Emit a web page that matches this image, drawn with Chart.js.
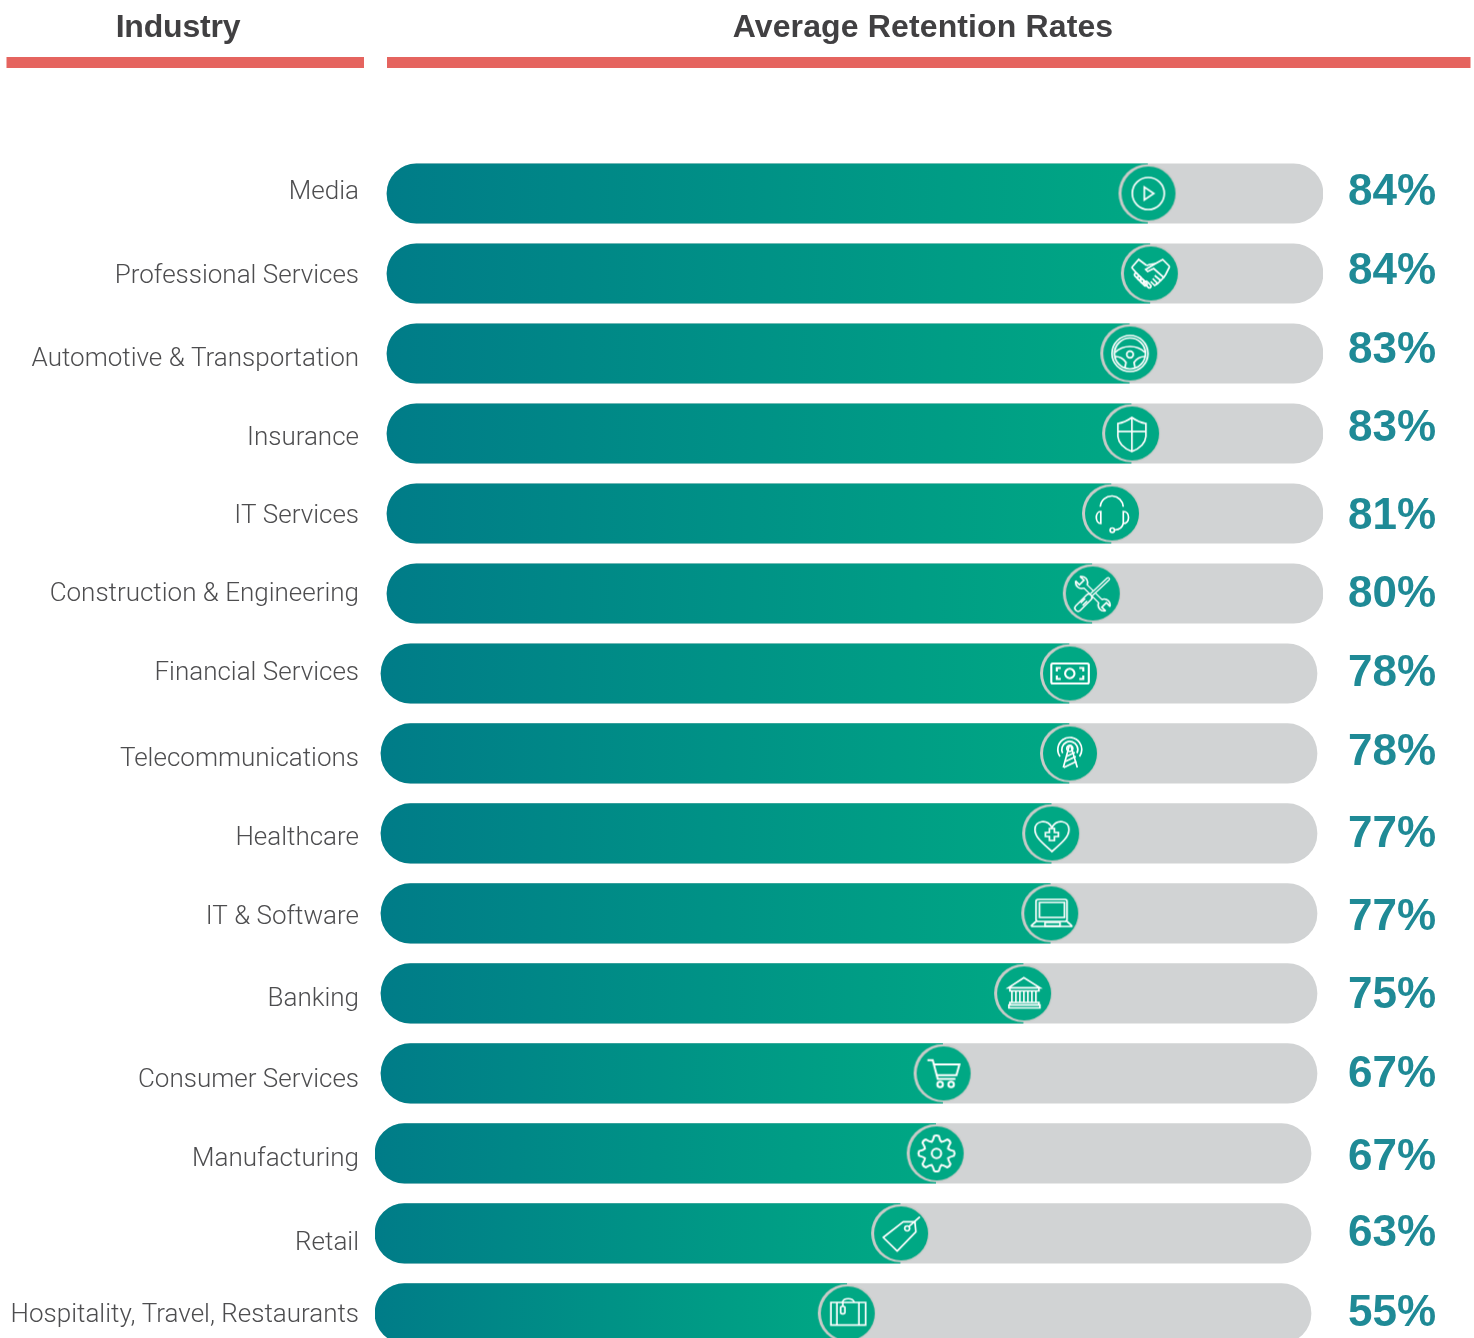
<!DOCTYPE html>
<html>
<head>
<meta charset="utf-8">
<title>Average Retention Rates by Industry</title>
<style>
html,body{margin:0;padding:0;background:#fff;overflow:hidden;width:1474px;height:1338px}
#wrap{width:1474px;height:1338px;overflow:hidden;position:relative}
canvas{display:block}
</style>
<script src="https://cdn.jsdelivr.net/npm/chart.js@4"></script>
</head>
<body>
<div id="wrap"><canvas id="c" width="1474" height="1385"></canvas></div>
<script>
const categories = ["Media","Professional Services","Automotive & Transportation","Insurance","IT Services","Construction & Engineering","Financial Services","Telecommunications","Healthcare","IT & Software","Banking","Consumer Services","Manufacturing","Retail","Hospitality, Travel, Restaurants"];
const rates = [84,84,83,83,81,80,78,78,77,77,75,67,67,63,55];
// where each icon badge sits along its track, as drawn (percent of track)
const drawnFill = [81.25,81.5,79.3,79.5,77.35,75.3,73.5,73.5,71.6,71.5,68.6,60.0,59.9,56.1,50.4];
const trackStart = [0,0,0,0,0,0,-0.64,-0.64,-0.64,-0.64,-0.64,-0.64,-1.28,-1.28,-1.28];
const iconNames = ["play","handshake","wheel","shield","headset","tools","money","tower","heart","laptop","bank","cart","gear","tag","case"];
const columnTitles = ["Industry","Average Retention Rates"];
const labelNudge = [-1,3,6,5,3,1,0,6,5,4,6,7,6,10,2];
const rateNudge = [-2,-3,-4,-6,2,0,-1,-2,0,3,1,0,3,-1,-1];

const GREEN='#00a884', TEAL='#007c88', TRACK='#d1d3d4', RING='#c9cbc8', RED='#e5645f', DARK='#414042', RATE='#1f8a96';

function P(c,pts,close){c.beginPath();pts.forEach((p,i)=>i?c.lineTo(p[0],p[1]):c.moveTo(p[0],p[1]));if(close)c.closePath();c.stroke();}
function C(c,x,y,r){c.beginPath();c.arc(x,y,r,0,Math.PI*2);c.stroke();}
const icons={
 play(c){C(c,0,0,16);P(c,[[-4,-6.5],[-4,6.5],[5.5,0]],true);},
 handshake(c){
  P(c,[[-19,-6],[-12,-14],[-4,-8]]);P(c,[[-19,-6],[-13,1]]);
  P(c,[[19,-7],[12,-14],[5,-10],[-5,-4],[-3,-2],[3,-5],[13,4],[15,1],[19,-7]]);
  P(c,[[-4,-8],[-1,-9],[5,-10]]);
  P(c,[[13,4],[10,7],[4,2]]);P(c,[[10,7],[7,10],[2,5]]);P(c,[[7,10],[4,12],[0,8]]);
  [[-13,3],[-10,6],[-7,9],[-3,11]].forEach(p=>{c.save();c.translate(p[0],p[1]);c.rotate(Math.PI/4);c.beginPath();c.roundRect(-4,-1.6,8,3.2,1.6);c.stroke();c.restore();});
 },
 wheel(c){C(c,0,0,18);C(c,0,0,15.5);C(c,0,1,3.3);
  c.beginPath();c.moveTo(-15,-1);c.quadraticCurveTo(-9,-7,0,-7);c.quadraticCurveTo(9,-7,15,-1);c.stroke();
  c.beginPath();c.moveTo(-15,3);c.quadraticCurveTo(-8,3,-4,9);c.lineTo(-5,14);c.stroke();
  c.beginPath();c.moveTo(15,3);c.quadraticCurveTo(8,3,4,9);c.lineTo(5,14);c.stroke();
 },
 shield(c){c.beginPath();c.moveTo(0,-16);c.quadraticCurveTo(-7,-11,-14,-10);c.lineTo(-14,3);c.quadraticCurveTo(-13,13,0,18);c.quadraticCurveTo(13,13,14,3);c.lineTo(14,-10);c.quadraticCurveTo(7,-11,0,-16);c.closePath();c.stroke();P(c,[[0,-16],[0,18]]);P(c,[[-14,-2],[14,-2]]);},
 headset(c){c.beginPath();c.arc(0,-6,11.5,Math.PI*1.02,Math.PI*1.98);c.stroke();
  c.beginPath();c.moveTo(-11,-2);c.bezierCurveTo(-17,-2,-17,10,-11,10);c.closePath();c.stroke();
  c.beginPath();c.moveTo(11.5,-2);c.bezierCurveTo(18.5,-2,18.5,10,11.5,10);c.closePath();c.stroke();
  c.beginPath();c.moveTo(11.5,10);c.quadraticCurveTo(10,16,3,16.5);c.stroke();C(c,0.5,16.7,2.2);},
 tools(c){
  const line=(pts,w,col)=>{c.save();c.lineCap='round';c.lineWidth=w;c.strokeStyle=col;P(c,pts);c.restore();};
  const head=(x,y,dx,dy)=>{
    c.fillStyle=GREEN;c.beginPath();c.arc(x,y,6,0,Math.PI*2);c.fill();C(c,x,y,6);
    const nx=-dy*3.2,ny=dx*3.2;
    c.beginPath();c.moveTo(x+nx,y+ny);c.lineTo(x+nx+dx*9,y+ny+dy*9);c.lineTo(x-nx+dx*9,y-ny+dy*9);c.lineTo(x-nx,y-ny);c.closePath();c.fill();
    P(c,[[x+nx+dx*5.5,y+ny+dy*5.5],[x+nx,y+ny],[x-nx,y-ny],[x-nx+dx*5.5,y-ny+dy*5.5]]);
  };
  const s=Math.SQRT1_2;
  line([[-9,-9],[9,9]],6,'#fff');
  head(-11,-11,-s,-s);head(11.5,11.5,s,s);
  line([[-8,-8],[8,8]],3.2,GREEN);
  line([[-1,1],[15.5,-14.5]],4,'#fff');line([[-1,1],[15.5,-14.5]],1.4,GREEN);
  line([[-14.5,14.5],[-4,4]],8,'#fff');line([[-14.5,14.5],[-4,4]],5,GREEN);
  P(c,[[-12,9.5],[-7.5,5]]);P(c,[[-10,12],[-5.5,7.5]]);},
 money(c){c.save();c.lineWidth=2.1;c.beginPath();c.roundRect(-18.5,-10,37.5,20,1.5);c.stroke();C(c,0,0,4.7);
  P(c,[[-9,-5.5],[-13,-5.5],[-13,-2]]);P(c,[[-13,2],[-13,5.5],[-9,5.5]]);P(c,[[9.5,-5.5],[13.5,-5.5],[13.5,-2]]);P(c,[[13.5,2],[13.5,5.5],[9.5,5.5]]);c.restore();},
 tower(c){
  c.beginPath();c.arc(0,-4,12,Math.PI*0.8,Math.PI*0.2);c.stroke();c.beginPath();c.arc(0,-4,8,Math.PI*0.85,Math.PI*0.15);c.stroke();C(c,0,-5,3);
  P(c,[[-6.5,14],[-0.5,-8],[1,-8],[7.5,14]]);P(c,[[-3.5,3],[5,-1]]);P(c,[[-4.5,8],[6,3]]);P(c,[[-6,14],[6.5,8]]);},
 heart(c){c.beginPath();c.moveTo(0,18);c.bezierCurveTo(-9,10,-17,4,-17,-4);c.bezierCurveTo(-17,-13,-5,-15,0,-6);c.bezierCurveTo(5,-15,17,-13,17,-4);c.bezierCurveTo(17,4,9,10,0,18);c.closePath();c.stroke();
  P(c,[[-2.5,-1],[-2.5,-5],[2.5,-5],[2.5,-1],[6.5,-1],[6.5,3],[2.5,3],[2.5,7],[-2.5,7],[-2.5,3],[-6.5,3],[-6.5,-1]],true);},
 laptop(c){c.beginPath();c.roundRect(-15,-14,31,22,2);c.stroke();c.beginPath();c.rect(-11.5,-11,25,15);c.stroke();
  c.beginPath();c.moveTo(-15,8);c.lineTo(-19.5,12);c.quadraticCurveTo(-20,13,-18,13);c.lineTo(20,13);c.quadraticCurveTo(21.5,13,20.5,12);c.lineTo(16,8);c.stroke();c.beginPath();c.rect(-6,9,15,3.6);c.stroke();},
 bank(c){P(c,[[0,-15.7],[-15.5,-5.7],[16,-5.7]],true);P(c,[[-14,-5.7],[-14,-2.5],[15,-2.5],[15,-5.7]]);
  [-12,-8,-4,0,4,8,12].forEach(x=>P(c,[[x,-2.5],[x,9]]));c.beginPath();c.rect(-14,9,29,2.5);c.stroke();c.beginPath();c.rect(-15,11.5,31,3);c.stroke();},
 cart(c){c.save();c.lineWidth=2;P(c,[[-16,-13.3],[-10.7,-13.3],[-5.7,5.5],[12,5.5]]);P(c,[[-9.8,-9],[16,-9],[13,1.7],[-7,1.7]]);C(c,-3.3,11,2.8);C(c,7.7,11,2.8);c.restore();},
 gear(c){c.save();c.lineWidth=2;C(c,0,0,4.7);c.beginPath();const n=8;for(let i=0;i<n;i++){const a=i/n*2*Math.PI-Math.PI/2,d=Math.PI/n;
   const pt=(r,t)=>[r*Math.cos(t),r*Math.sin(t)];
   const o1=pt(17.5,a-d*0.35),o2=pt(17.5,a+d*0.35),v=pt(12.5,a+d),v2=pt(13.5,a+d*0.65),v3=pt(13.5,a+d*1.35);
   if(i===0)c.moveTo(o1[0],o1[1]);c.quadraticCurveTo(pt(18.8,a)[0],pt(18.8,a)[1],o2[0],o2[1]);
   c.quadraticCurveTo(v2[0],v2[1],v[0],v[1]);const nx=pt(17.5,a+2*d-d*0.35);c.quadraticCurveTo(v3[0],v3[1],nx[0],nx[1]);}
  c.closePath();c.stroke();c.restore();},
 tag(c){c.save();c.lineJoin='round';P(c,[[-17.7,4],[-3.7,17.7],[15,-1.7],[14,-11.7],[2.3,-11.7]],true);C(c,6.3,-5,2.5);P(c,[[8,-6.8],[19,-16.7]]);c.restore();},
 case(c){c.beginPath();c.rect(-16.7,-11,34.7,22.7);c.stroke();P(c,[[-10.7,-11],[-10.7,11.7]]);P(c,[[11.3,-11],[11.3,11.7]]);
  c.beginPath();c.moveTo(-5.3,-11);c.bezierCurveTo(-4,-16,5,-16,6.7,-11);c.stroke();c.beginPath();c.roundRect(-7,-7,4.3,7.3,1.2);c.stroke();P(c,[[-4.8,-11],[-4.8,-7]]);}
};
function badge(name){
  const k=document.createElement('canvas');k.width=64;k.height=64;const c=k.getContext('2d');
  c.translate(32,32);
  c.fillStyle=RING;c.beginPath();c.arc(0,-0.2,29,0,Math.PI*2);c.fill();
  c.fillStyle=GREEN;c.beginPath();c.arc(1,0,27,0,Math.PI*2);c.fill();
  c.translate(0.8,0);c.strokeStyle='#fff';c.lineWidth=1.7;c.lineJoin='miter';icons[name](c);
  return k;
}
const badges=iconNames.map(badge);

const headerPlugin={id:'header',
  afterUpdate(chart){
    const s=chart.scales.y;const items=s._computeLabelItems(chart.chartArea);
    items.forEach((it,i)=>{it.options.translation=[it.options.translation[0],it.options.translation[1]+labelNudge[i]];});
    s._labelItems=items;
  },
  afterDraw(chart){
    const c=chart.ctx,y=chart.scales.y;c.save();
    c.fillStyle=RED;c.fillRect(6.5,57,357.5,11);c.fillRect(387,57,1083.5,11);
    c.fillStyle=DARK;c.font='bold 32px "Liberation Sans"';c.textAlign='center';c.textBaseline='middle';
    c.letterSpacing='-0.2px';c.fillText(columnTitles[0],178,28);
    c.letterSpacing='0.13px';c.fillText(columnTitles[1],923,28);
    c.letterSpacing='0px';
    c.fillStyle=RATE;c.font='bold 44px "Liberation Sans"';c.textAlign='left';
    rates.forEach((r,i)=>c.fillText(r+'%',1348,y.getPixelForValue(i)+rateNudge[i]+1));
    c.restore();
  }
};

const chart=new Chart(document.getElementById('c'),{
  type:'bar',
  data:{labels:categories,datasets:[
    {type:'scatter',label:'Badge',order:0,showLine:false,clip:false,
     data:drawnFill.map((v,i)=>({x:v+trackStart[i],y:i})),
     pointStyle:badges,pointRadius:30,pointHoverRadius:30},
    {label:'Average retention',order:1,indexAxis:'y',grouped:false,barThickness:59.5,borderSkipped:false,
     data:drawnFill.map((v,i)=>[trackStart[i],v+trackStart[i]]),
     borderRadius:{topLeft:29.75,bottomLeft:29.75,topRight:0,bottomRight:0},
     backgroundColor(ctx){
       const ch=ctx.chart,sx=ch.scales.x,i=ctx.dataIndex;
       if(!sx||i===undefined)return GREEN;
       const a=sx.getPixelForValue(trackStart[i]),b=sx.getPixelForValue(drawnFill[i]+trackStart[i]);
       if(!isFinite(a)||!isFinite(b))return GREEN;
       const g=ch.ctx.createLinearGradient(a,0,b,0);
       g.addColorStop(0,TEAL);g.addColorStop(1,GREEN);return g;
     }},
    {label:'Track',order:2,indexAxis:'y',grouped:false,barThickness:59.5,borderSkipped:false,
     data:trackStart.map(s=>[s,s+100]),borderRadius:29.75,backgroundColor:TRACK}
  ]},
  options:{
    indexAxis:'y',responsive:false,animation:false,
    layout:{padding:{top:153.5,right:151,bottom:0,left:0}},
    plugins:{legend:{display:false},tooltip:{enabled:false}},
    scales:{
      x:{type:'linear',min:-1.28,max:100,display:false},
      y:{type:'category',offset:true,grid:{display:false,drawTicks:false},border:{display:false},
         afterFit(s){s.width=375;},
         ticks:{padding:16,color:'#4d4d4f',autoSkip:false,font:{family:'Roboto',size:26,weight:'300'},crossAlign:'near'}}
    }
  },
  plugins:[headerPlugin]
});
</script>
</body>
</html>
